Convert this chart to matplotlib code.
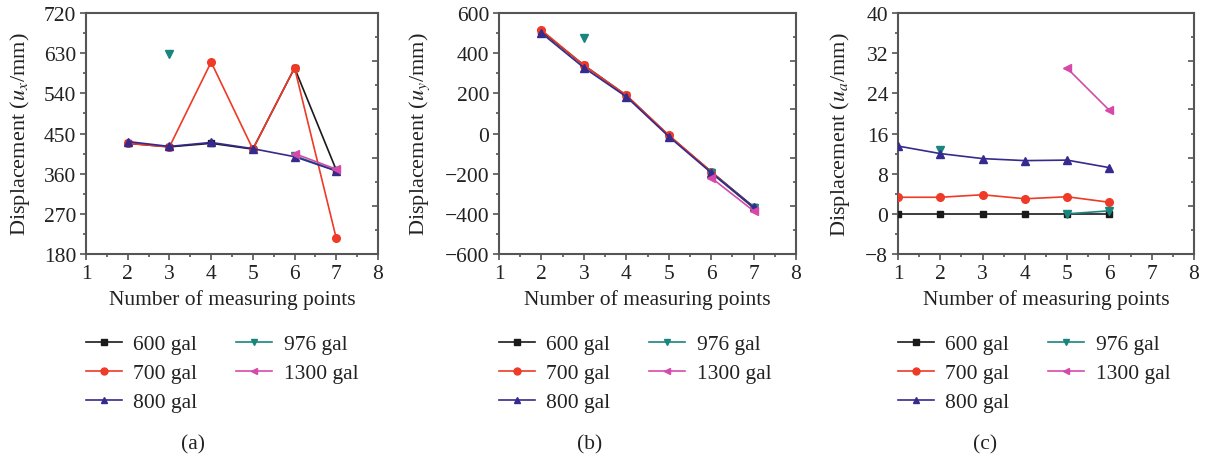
import matplotlib
matplotlib.use("Agg")
import matplotlib.pyplot as plt
import numpy as np
from matplotlib.ticker import MultipleLocator, NullFormatter
from matplotlib.lines import Line2D

plt.rcParams['font.family'] = ['Liberation Serif', 'DejaVu Serif']
plt.rcParams['mathtext.fontset'] = 'stix'

series_names = ['600 gal', '700 gal', '800 gal', '976 gal', '1300 gal']
colors = ['#1a1a1a', '#ee3a26', '#352a8e', '#18857f', '#d54aa8']
markers = ['s', 'o', '^', 'v', '<']

# Panel (a): u_x
xa = [2, 3, 4, 5, 6, 7]
a_600 = [428, 420, 428, 415, 597, 368]
a_700 = [428, 420, 610, 415, 597, 215]
a_800 = [432, 421, 430, 416, 398, 366]
a_976_x = [[3], [6, 7]]
a_976_y = [[628], [400, 367]]
a_1300_x = [6, 7]
a_1300_y = [405, 370]

# Panel (b): u_y
xb = [2, 3, 4, 5, 6, 7]
b_600 = [510, 340, 190, -10, -190, -365]
b_700 = [515, 340, 190, -8, -190, -370]
b_800 = [500, 328, 183, -15, -195, -368]
b_976_x = [[3], [6, 7]]
b_976_y = [[475], [-195, -370]]
b_1300_x = [6, 7]
b_1300_y = [-220, -385]

# Panel (c): u_a
xc = [1, 2, 3, 4, 5, 6]
c_600 = [0, 0, 0, 0, 0, 0]
c_700 = [3.3, 3.3, 3.8, 3.0, 3.4, 2.3]
c_800 = [13.5, 12.0, 11.0, 10.6, 10.7, 9.2]
c_976_x = [[2], [5, 6]]
c_976_y = [[12.8], [0.0, 0.6]]
c_1300_x = [5, 6]
c_1300_y = [29.0, 20.6]

panels = [
    dict(x=xa, s600=a_600, s700=a_700, s800=a_800, s976x=a_976_x, s976y=a_976_y,
         s1300x=a_1300_x, s1300y=a_1300_y, ylim=(180, 720), ystep=90,
         ylabel=r'Displacement ($u_x$/mm)', tag='(a)'),
    dict(x=xb, s600=b_600, s700=b_700, s800=b_800, s976x=b_976_x, s976y=b_976_y,
         s1300x=b_1300_x, s1300y=b_1300_y, ylim=(-600, 600), ystep=200,
         ylabel=r'Displacement ($u_y$/mm)', tag='(b)'),
    dict(x=xc, s600=c_600, s700=c_700, s800=c_800, s976x=c_976_x, s976y=c_976_y,
         s1300x=c_1300_x, s1300y=c_1300_y, ylim=(-8, 40), ystep=8,
         ylabel=r'Displacement ($u_a$/mm)', tag='(c)'),
]

W, H = 1206, 456
fig = plt.figure(figsize=(W / 100, H / 100), dpi=100)

ax_px = [(86, 378), (499, 796), (898, 1194)]
top_px, bot_px = 14, 255
ylabel_x = [20, 420, 840]
tag_x = [193, 590, 985]
leg_x = [86, 499, 898]

spine_col = '#555555'
txt_col = '#222222'

for i, p in enumerate(panels):
    l, r = ax_px[i]
    ax = fig.add_axes([l / W, 1 - bot_px / H, (r - l) / W, (bot_px - top_px) / H])
    ms = 5
    lw = 1.2
    ax.plot(p['x'], p['s600'], color=colors[0], marker=markers[0], ms=ms, lw=lw, zorder=3)
    ax.plot(p['x'], p['s700'], color=colors[1], marker=markers[1], ms=ms + 0.5, lw=lw, zorder=4)
    for xs, ys in zip(p['s976x'], p['s976y']):
        ax.plot(xs, ys, color=colors[3], marker=markers[3], ms=ms + 1, lw=lw, zorder=5)
    ax.plot(p['x'], p['s800'], color=colors[2], marker=markers[2], ms=ms + 1, lw=lw, zorder=6)
    ax.plot(p['s1300x'], p['s1300y'], color=colors[4], marker=markers[4], ms=ms + 1, lw=lw, zorder=7)

    ax.set_xlim(1, 8)
    ax.set_ylim(*p['ylim'])
    ax.xaxis.set_major_locator(MultipleLocator(1))
    ax.xaxis.set_minor_locator(MultipleLocator(0.5))
    ax.yaxis.set_major_locator(MultipleLocator(p['ystep']))
    ax.yaxis.set_minor_locator(MultipleLocator(p['ystep'] / 2))
    ax.tick_params(which='both', direction='out', color=spine_col, labelsize=15.5, width=1.2)
    ax.tick_params(which='major', length=4, pad=3)
    ax.tick_params(which='minor', length=2.5)
    ax.tick_params(axis='both', labelcolor=txt_col)
    for s in ax.spines.values():
        s.set_color(spine_col)
        s.set_linewidth(1.5)

    # right side ticks (inward, different spacing)
    ax2 = ax.twinx()
    ax2.set_ylim(*p['ylim'])
    y0, y1 = p['ylim']
    ax2.set_yticks(np.linspace(y0, y1, 6))
    ax2.set_yticks(np.linspace(y0, y1, 11), minor=True)
    ax2.yaxis.set_major_formatter(NullFormatter())
    ax2.tick_params(which='both', direction='in', color=spine_col, width=1.2)
    ax2.tick_params(which='major', length=4)
    ax2.tick_params(which='minor', length=2.5)
    for s in ax2.spines.values():
        s.set_visible(False)

    fig.text(ylabel_x[i] / W, 1 - (bot_px + top_px) / 2 / H, p['ylabel'], rotation=90,
             ha='center', va='center', fontsize=16, color=txt_col)
    fig.text((l + r) / 2 / W, 1 - 300 / H, 'Number of measuring points',
             ha='center', va='center', fontsize=15.5, color=txt_col)
    fig.text(tag_x[i] / W, 1 - 445 / H, p['tag'], ha='center', va='center',
             fontsize=15.5, color=txt_col)

    handles = [Line2D([], [], color=colors[k], marker=markers[k], ms=5, lw=1.2)
               for k in range(5)]
    fig.legend(handles, series_names, ncol=2, loc='upper left',
               bbox_to_anchor=(leg_x[i] / W, 1 - 335 / H), frameon=False,
               fontsize=15.5, handlelength=1.65, handletextpad=0.55,
               columnspacing=1.8, labelspacing=0.42, borderpad=0, borderaxespad=0,
               labelcolor=txt_col)

fig.savefig('out.png', dpi=100)
